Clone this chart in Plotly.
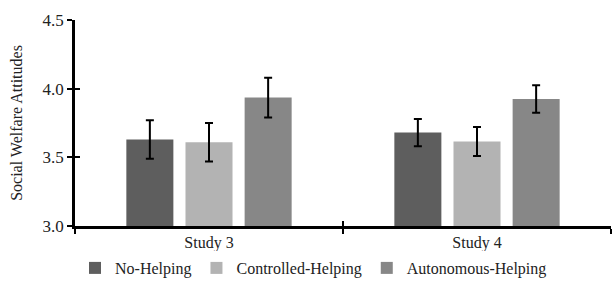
import plotly.graph_objects as go

categories = ["Study 3", "Study 4"]
series_names = ["No-Helping", "Controlled-Helping", "Autonomous-Helping"]
means = {
    "No-Helping": [3.63, 3.68],
    "Controlled-Helping": [3.61, 3.615],
    "Autonomous-Helping": [3.935, 3.925],
}
errors = {
    "No-Helping": [0.14, 0.10],
    "Controlled-Helping": [0.14, 0.105],
    "Autonomous-Helping": [0.145, 0.10],
}
colors = {
    "No-Helping": "#5e5e5e",
    "Controlled-Helping": "#b3b3b3",
    "Autonomous-Helping": "#878787",
}
y_ticks = [3.0, 3.5, 4.0, 4.5]
y_tick_text = ["3.0", "3.5", "4.0", "4.5"]

font_family = "Liberation Serif"

fig = go.Figure()
for name in series_names:
    fig.add_trace(go.Bar(
        x=categories, y=[v - 3.0 for v in means[name]], base=3.0,
        name=name,
        marker=dict(color=colors[name], line=dict(width=0)),
        error_y=dict(type="data", array=errors[name], color="black",
                     thickness=2, width=4),
    ))

# invisible trace for the overlay axes (inside tick halves)
fig.add_trace(go.Scatter(x=[0], y=[3.0], xaxis="x2", yaxis="y2",
                         mode="markers", marker=dict(opacity=0),
                         showlegend=False, hoverinfo="skip"))

fig.update_layout(
    width=613, height=285,
    margin=dict(l=75, r=2, t=20, b=59, autoexpand=False),
    paper_bgcolor="white", plot_bgcolor="white",
    font=dict(family=font_family, size=16, color="#222222"),
    barmode="group", bargap=0.338, bargroupgap=0.205,
    showlegend=True,
    legend=dict(orientation="h", x=0.445, xanchor="center",
                yref="container", y=0.0, yanchor="bottom",
                font=dict(size=16, color="#222222"),
                itemwidth=30, traceorder="normal"),
    xaxis=dict(type="category", range=[-0.5, 1.5], showline=True,
               linecolor="black", linewidth=2.5, ticks="outside",
               tickson="boundaries", ticklen=5, tickwidth=2,
               tickcolor="black", showgrid=False, zeroline=False,
               automargin=False,
               tickfont=dict(size=16, color="#222222")),
    yaxis=dict(range=[3.0, 4.5], tickvals=y_ticks, ticktext=y_tick_text,
               showline=True, linecolor="black", linewidth=2.5,
               ticks="outside", ticklen=5, tickwidth=2, tickcolor="black",
               showgrid=False, zeroline=False, automargin=False,
               title=dict(text="Social Welfare Attitudes",
                          font=dict(size=16, color="#222222"), standoff=16),
               tickfont=dict(size=17, color="#222222")),
    xaxis2=dict(overlaying="x", range=[-0.5, 1.5], tickvals=[0.5, 1.5],
                ticks="inside", ticklen=5, tickwidth=2, tickcolor="black",
                showticklabels=False, showline=False, showgrid=False,
                zeroline=False, anchor="y2", side="bottom"),
    yaxis2=dict(overlaying="y", range=[3.0, 4.5], tickvals=y_ticks,
                ticks="inside", ticklen=5, tickwidth=2, tickcolor="black",
                showticklabels=False, showline=False, showgrid=False,
                zeroline=False, anchor="x2", side="left"),
)

fig.write_html(
    "out.html",
    config={"displayModeBar": False},
    post_script="document.body.style.margin='0';document.body.style.overflow='hidden';",
)
